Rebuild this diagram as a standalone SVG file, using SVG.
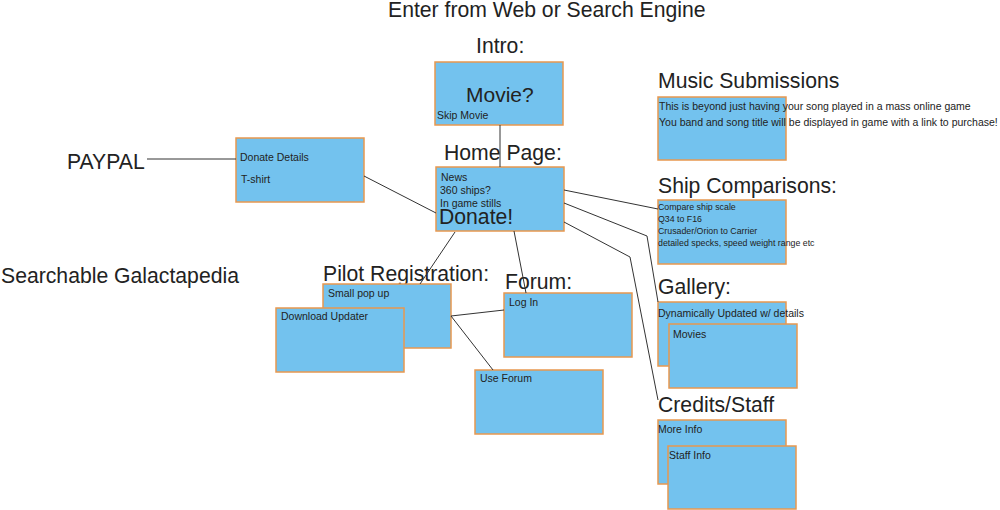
<svg xmlns="http://www.w3.org/2000/svg" width="1000" height="510" viewBox="0 0 1000 510">
<style>
text{font-family:"Liberation Sans",Arial,sans-serif;fill:#222}
.h{font-size:21.2px}
.s{font-size:10.5px}
.xs{font-size:8.8px}
.b{fill:#73c2ee;stroke:#e8984f;stroke-width:1.5}
.c{stroke:#333;stroke-width:1;fill:none}
</style>
<rect width="1000" height="510" fill="#fff"/>
<text class="h" x="388" y="17">Enter from Web or Search Engine</text>
<g id="intro">
<text class="h" x="476" y="53">Intro:</text>
<rect class="b" x="435" y="62" width="128" height="63"/>
<text x="466" y="102" style="font-size:21px">Movie?</text>
<text class="s" x="437" y="119">Skip Movie</text>
</g>
<g id="home">
<text class="h" x="444" y="160">Home Page:</text>
<rect class="b" x="436" y="167" width="128" height="64"/>
<text class="s" x="441" y="181">News</text>
<text class="s" x="440" y="194">360 ships?</text>
<text class="s" x="440" y="207">In game stills</text>
<text class="h" x="439" y="224">Donate!</text>
</g>
<g id="donate">
<rect class="b" x="236" y="138" width="128" height="64"/>
<text class="s" x="240" y="161">Donate Details</text>
<text class="s" x="241" y="183">T-shirt</text>
</g>
<g id="paypal"><text class="h" x="67" y="169">PAYPAL</text></g>
<g id="galactapedia"><text class="h" x="1" y="283">Searchable Galactapedia</text></g>
<g id="music">
<text class="h" x="658" y="88">Music Submissions</text>
<rect class="b" x="658" y="97" width="128" height="63"/>
<text class="s" x="659" y="110">This is beyond just having your song played in a mass online game</text>
<text class="s" x="659" y="126">You band and song title will be displayed in game with a link to purchase!</text>
</g>
<g id="ships">
<text class="h" x="658" y="193">Ship Comparisons:</text>
<rect class="b" x="658" y="200" width="128" height="64"/>
<text class="xs" x="658" y="210">Compare ship scale</text>
<text class="xs" x="658" y="222">Q34 to F16</text>
<text class="xs" x="658" y="234">Crusader/Orion to Carrier</text>
<text class="xs" x="658" y="246">detailed specks, speed weight range etc</text>
</g>
<g id="gallery">
<text class="h" x="658" y="294">Gallery:</text>
<rect class="b" x="658" y="302" width="128" height="64"/>
<text class="s" x="658" y="317">Dynamically Updated w/ details</text>
<rect class="b" x="669" y="324" width="128" height="64"/>
<text class="s" x="673" y="338">Movies</text>
</g>
<g id="credits">
<text class="h" x="658" y="412">Credits/Staff</text>
<rect class="b" x="658" y="420" width="128" height="64"/>
<text class="s" x="658" y="433">More Info</text>
<rect class="b" x="668" y="446" width="128" height="63"/>
<text class="s" x="669" y="459">Staff Info</text>
</g>
<g id="pilot">
<text class="h" x="323" y="281">Pilot Registration:</text>
<rect class="b" x="323" y="284" width="128" height="64"/>
<text class="s" x="328" y="297">Small pop up</text>
<rect class="b" x="276" y="308" width="128" height="64"/>
<text class="s" x="281" y="320">Download Updater</text>
</g>
<g id="forum">
<text class="h" x="505" y="289">Forum:</text>
<rect class="b" x="504" y="293" width="128" height="64"/>
<text class="s" x="509" y="306">Log In</text>
<rect class="b" x="475" y="370" width="128" height="64"/>
<text class="s" x="480" y="382">Use Forum</text>
</g>
<g id="connectors" class="c">
<line class="c" x1="500" y1="125" x2="500" y2="167"/>
<line class="c" x1="147" y1="159" x2="236" y2="159"/>
<line class="c" x1="364" y1="176" x2="436" y2="213"/>
<line class="c" x1="455" y1="232" x2="420" y2="284"/>
<line class="c" x1="514" y1="231" x2="526" y2="293"/>
<line class="c" x1="564" y1="190" x2="658" y2="209"/>
<polyline class="c" points="564,203 647,236 658,302"/>
<polyline class="c" points="564,222 630,257 658,400"/>
<line class="c" x1="451" y1="316" x2="504" y2="310"/>
<line class="c" x1="451" y1="316" x2="493" y2="370"/>
</g>
</svg>
